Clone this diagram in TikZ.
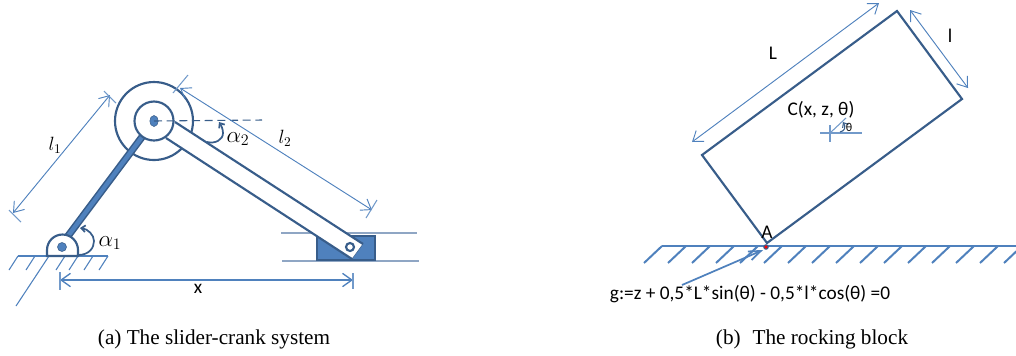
\documentclass[tikz,border=0pt]{standalone}
\usepackage{fontspec}
\setmainfont{Carlito}
\newfontfamily\captionfont{Liberation Serif}
\usetikzlibrary{arrows.meta}
\definecolor{linkdark}{HTML}{385D8A}
\definecolor{linkfill}{HTML}{4F81BD}
\definecolor{railgrey}{HTML}{8FA6C4}
\tikzset{
  linkline/.style={draw=linkdark,line width=1.6pt},
  dimline/.style={draw=linkfill,line width=0.7pt,{Straight Barb[length=7pt,width=10pt]}-{Straight Barb[length=7pt,width=10pt]}},
  tickline/.style={draw=linkfill!80,line width=0.8pt},
  hatchline/.style={draw=linkfill,line width=0.8pt},
  bighatch/.style={draw=linkfill,line width=1.5pt},
  anglearc/.style={draw=linkdark,line width=1.3pt,-{Straight Barb[length=3pt,width=5pt]}},
  txt/.style={font=\fontsize{14.5}{17}\selectfont,inner sep=0pt},
  mathtxt/.style={font=\fontsize{18}{21}\selectfont,inner sep=0pt},
  capt/.style={font=\captionfont\fontsize{15.9}{19}\selectfont,inner sep=0pt},
}
\begin{document}
\begin{tikzpicture}[x=0.75pt,y=-0.75pt]
\useasboundingbox (0,0) rectangle (1016,355);
% (a) slider-crank
\coordinate (pivot) at (62,247);
\coordinate (hub) at (154,121);
\coordinate (rodA) at (68,236);
\coordinate (rodB) at (142,137);
\coordinate (slide) at (350,247);
% rails and block
\draw[railgrey,line width=1pt] (281,233) -- (417,233);
\draw[railgrey,line width=1.3pt] (282,261) -- (419,261);
\draw[linkdark,fill=linkfill,line width=1.2pt] (317,236) rectangle (375,260);
% ground
\draw[hatchline] (18,256) -- (108,256);
\foreach \x in {18,35,65,78,93,108} {
\draw[hatchline] (\x,256) -- ++(-9,14);
}
\draw[hatchline] (49,256) -- (16,306);
% wheel, then crank rod up to the inner ring
\draw[linkline,fill=white] (hub) circle (39);
\draw[linkdark,line width=5.5pt] (rodA) -- (rodB);
\draw[linkfill,line width=3.2pt] (rodA) -- (rodB);
% long bar
\fill[white] (175,122) -- (363,244) -- (352,259) -- (166,138) -- cycle;
\draw[linkline] (175,122) -- (363,244);
\draw[linkline] (166,138) -- (352,259);
\draw[linkdark,line width=0.4pt] (363,244) -- (352,259);
\draw[linkdark,line width=1.6pt,fill=white] (slide) circle (4);
\draw[linkline,fill=white] (hub) circle (19.5);
\fill[linkfill,draw=linkdark] (hub) ellipse [x radius=4.2,y radius=5.5];
% base pivot
\draw[linkline,fill=white] (47,256) -- (47,250) arc[start angle=180,end angle=360,radius=15.5] -- (78,256) -- cycle;
\fill[linkfill,draw=linkdark] (pivot) circle (4.5);
% angles
\draw[linkline,line width=0.8pt,dash pattern=on 6pt off 3.5pt] (hub) -- (262,120);
\draw[anglearc] (78,255) .. controls (89,255) and (94,248) .. (94,241) .. controls (94,235) and (88,229) .. (80,228);
\draw[anglearc] (207,142) .. controls (215,144) and (223,140) .. (223,133) .. controls (223,129) and (221,125) .. (219,122);
\node[mathtxt] (alphaA) at (110,243) {$\alpha_1$};
\node[mathtxt] (alphaB) at (238,139) {$\alpha_2$};
% dimensions
\coordinate (dimAa) at (13,213);
\coordinate (dimAb) at (110,95);
\coordinate (dimBa) at (180,88);
\coordinate (dimBb) at (372,210);
\coordinate (dimXa) at (60,280);
\coordinate (dimXb) at (353,280);
\draw[dimline] (dimAa) -- (dimAb);
\draw[tickline] (9,210) -- (21,222);
\draw[tickline] (104,91) -- (116,103);
\draw[dimline] (dimBa) -- (dimBb);
\draw[tickline] (188,75) -- (173,93);
\draw[tickline] (377,200) -- (366,218);
\draw[dimline,line width=1pt] (dimXa) -- (dimXb);
\draw[tickline,line width=1pt] (60,272) -- (60,290);
\draw[tickline,line width=1pt] (353,273) -- (353,289);
\node[txt] (lenA) at (55,145) {$l_1$};
\node[txt] (lenB) at (285,138) {$l_2$};
\node[txt] (lenX) at (198,289) {x};
\node[capt] (captA) at (214,339) {(a) The slider-crank system};
% (b) rocking block
\coordinate (top) at (897,11);
\coordinate (right) at (962,99);
\coordinate (contact) at (767,243);
\coordinate (left) at (702,155);
\draw[linkline] (top) -- (right) -- (contact) -- (left) -- cycle;
\begin{scope}
\clip (640,240) rectangle (1016,270);
\draw[bighatch] (662,246) -- (1016,246);
\foreach \x in {662,686,...,1024} {
\draw[bighatch] (\x,246) -- ++(-18,17);
}
\end{scope}
\draw[linkline,line width=0.8pt,fill=red] (766,247) circle (2.2);
\coordinate (noteEnd) at (763,250);
\coordinate (noteStart) at (682,285);
\draw[draw=linkfill,line width=1.3pt,-{Straight Barb[length=9pt,width=7pt]}] (noteStart) -- (noteEnd);
\node[txt] (ptA) at (767,232) {A};
\node[txt] (noteG) at (750,294) {g:=z + 0,5*L*sin(θ) - 0,5*l*cos(θ) =0};
\draw[dimline] (692,142) -- (879,3);
\draw[dimline] (910,10) -- (968,88);
\node[txt] (lenL) at (773,53) {L};
\node[txt] (lenl) at (950,36) {l};
\node[txt] (centre) at (821,110) {C(x, z, θ)};
% frame at C
\draw[tickline] (820,133) -- (862,133);
\draw[tickline] (830,125) -- (830,142);
\draw[tickline] (830,133) -- (846,118);
\draw[anglearc,line width=0.8pt] (840,132) .. controls (845,131) and (846,127) .. (843,122);
\node[txt,font=\fontsize{9}{10}\selectfont] (thetaC) at (849,127) {θ};
\node[capt] (captB) at (812,339) {(b)\hspace{9pt}The rocking block};
\end{tikzpicture}
\end{document}
